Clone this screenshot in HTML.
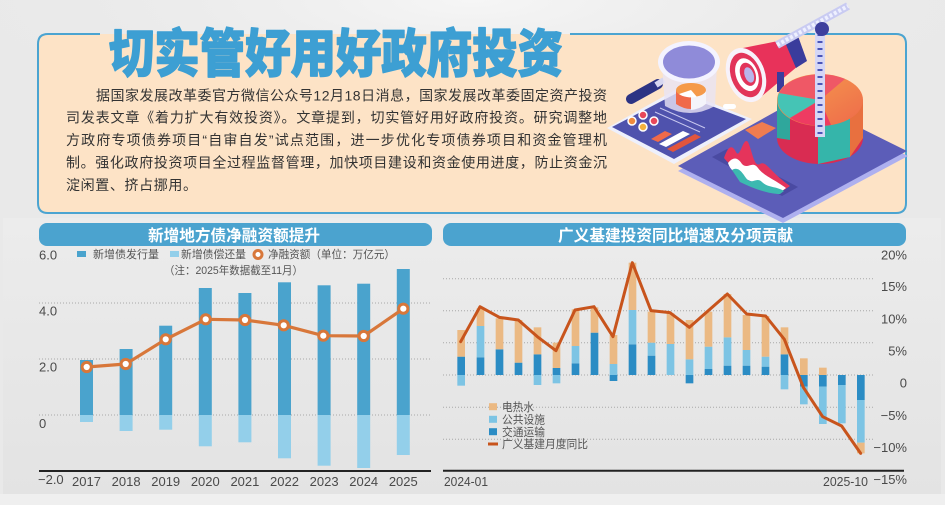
<!DOCTYPE html>
<html><head><meta charset="utf-8">
<style>
html,body{margin:0;padding:0;background:#e8e8e8;}
svg{display:block;}
text{font-family:"Liberation Sans","Noto Sans CJK SC",sans-serif;}
</style></head>
<body>
<svg width="945" height="505" viewBox="0 0 945 505" xmlns="http://www.w3.org/2000/svg">
<defs>
<radialGradient id="topglow" cx="0.5" cy="0" r="0.6">
<stop offset="0" stop-color="#f6f6f6"/><stop offset="1" stop-color="#e9e9e9" stop-opacity="0"/>
</radialGradient>
<linearGradient id="panel" x1="0" y1="0" x2="0" y2="1">
<stop offset="0" stop-color="#ececec"/><stop offset="1" stop-color="#e3e3e3"/>
</linearGradient>
<linearGradient id="pieO" x1="0" y1="0" x2="1" y2="1">
<stop offset="0" stop-color="#f6a04e"/><stop offset="1" stop-color="#ee6a4a"/>
</linearGradient>
</defs>

<!-- background -->
<rect x="0" y="0" width="945" height="505" fill="#e9e9e9"/>
<rect x="0" y="0" width="945" height="230" fill="url(#topglow)"/>
<rect x="3" y="218" width="938" height="276" fill="url(#panel)"/>
<rect x="0" y="494" width="945" height="11" fill="#efefef"/>

<!-- top card -->
<rect x="38" y="34" width="868" height="179" rx="10" fill="#fde3c6"/>
<path d="M100,34 L48,34 Q38,34 38,44 L38,203 Q38,213 48,213 L896,213 Q906,213 906,203 L906,44 Q906,34 896,34 L570,34" fill="none" stroke="#4ba4d1" stroke-width="2"/>

<!-- main title -->
<text transform="translate(109,72) scale(1,1.12)" font-size="46" font-weight="900" fill="#3d9fd3" stroke="#3d9fd3" stroke-width="1.3" stroke-linejoin="round" textLength="454" lengthAdjust="spacingAndGlyphs" style="font-family:'Noto Sans CJK SC',sans-serif;">切实管好用好政府投资</text>

<!-- body text -->
<g font-size="14" fill="#333333">
<text x="96" y="100.7" textLength="511" lengthAdjust="spacing">据国家发展改革委官方微信公众号12月18日消息，国家发展改革委固定资产投资</text>
<text x="66" y="122.7" textLength="541" lengthAdjust="spacing">司发表文章《着力扩大有效投资》。文章提到，切实管好用好政府投资。研究调整地</text>
<text x="66" y="145" textLength="541" lengthAdjust="spacing">方政府专项债券项目“自审自发”试点范围，进一步优化专项债券项目和资金管理机</text>
<text x="66" y="167.3" textLength="541" lengthAdjust="spacing">制。强化政府投资项目全过程监督管理，加快项目建设和资金使用进度，防止资金沉</text>
<text x="66" y="190" textLength="131" lengthAdjust="spacing">淀闲置、挤占挪用。</text>
</g>

<!-- illustration -->
<g>
<polygon points="678,171 800,103 908,156 783,223" fill="#aeb0ef"/>
<polygon points="678,166 800,98 907,151 783,218" fill="#5c5db8"/>
<polygon points="607,128 677,89 752,119 674,164" fill="#eef0fc"/>
<polygon points="612,127 677,93 746,119 674,159" fill="#4f52ad"/>
<line x1="660" y1="108" x2="705" y2="128" stroke="#c9c9f0" stroke-width="1"/>
<line x1="655" y1="112" x2="700" y2="132" stroke="#c9c9f0" stroke-width="1"/>
<circle cx="632" cy="121" r="4" fill="#f08a3c" stroke="#fff" stroke-width="1.5"/>
<circle cx="643" cy="115" r="4" fill="#e8485a" stroke="#fff" stroke-width="1.5"/>
<circle cx="643" cy="127" r="4" fill="#f5b13c" stroke="#fff" stroke-width="1.5"/>
<circle cx="654" cy="121" r="4" fill="#e8485a" stroke="#fff" stroke-width="1.5"/>
<polygon points="651,139 665,131 672,134 658,142" fill="#f06a4a"/>
<polygon points="659,144 683,131 690,134 666,147" fill="#ffffff"/>
<polygon points="667,149 695,134 701,137 673,152" fill="#e2553c"/>
<rect x="723" y="104" width="13" height="5" rx="2.5" fill="#fff"/>
<line x1="631" y1="99" x2="658" y2="84" stroke="#2c3384" stroke-width="10" stroke-linecap="round"/>
<line x1="656" y1="85" x2="664" y2="80" stroke="#d6d6f0" stroke-width="6"/>
<path d="M662,64 L665,106 Q690,120 715,106 L717,64 Z" fill="#e9e4f4" opacity="0.8"/>
<path d="M676,90 L676,104 Q691,114 706,104 L706,90 Z" fill="#f06a4a"/>
<path d="M691,92 L691,110 Q700,109 706,104 L706,90 Z" fill="#f4f4fa"/>
<ellipse cx="691" cy="90" rx="15" ry="7" fill="#f59a4a"/>
<path d="M691,90 L679,94 A15,7 0 0 0 697,97 Z" fill="#ffffff"/>
<ellipse cx="689" cy="62" rx="31" ry="21" fill="#f4f3ff"/>
<ellipse cx="689" cy="62" rx="26" ry="16.5" fill="#8f8bd9"/>
<polygon points="738,49 788,39 798,66 756,101" fill="#e8325a"/>
<polygon points="784,40 798,36 807,61 796,68" fill="#3a3c9c"/>
<rect x="777" y="72" width="7" height="20" fill="#3a3c9c"/>
<g transform="rotate(-20 746 75)">
<ellipse cx="746" cy="75" rx="19" ry="28" fill="#f7f2fb"/>
<ellipse cx="746" cy="75" rx="15" ry="23" fill="#e2345a"/>
<ellipse cx="747" cy="75" rx="11" ry="17" fill="#ffffff"/>
<ellipse cx="748" cy="75" rx="7.5" ry="12" fill="#e2345a"/>
<ellipse cx="749" cy="76" rx="4.5" ry="8" fill="#b9b5ea"/>
</g>
<polygon points="745,130 762,122 776,128 758,139" fill="#f07c50"/>
<polygon points="712,157 727,149 798,187 782,196" fill="#4a4aa2"/>
<path d="M724,158 C728,146 732,144 736,152 C740,160 743,136 748,142 C752,150 754,168 760,164 C766,160 770,172 790,186 L784,190 C770,186 760,178 750,174 C740,170 730,166 724,158 Z" fill="#e5345b"/>
<path d="M728,163 C734,156 738,158 742,164 C748,170 752,160 758,168 C764,176 772,178 786,188 L782,191 C768,188 756,184 744,178 C736,174 730,170 728,163 Z" fill="#ffffff"/>
<path d="M732,170 C738,166 742,172 746,178 C752,186 756,176 762,182 C768,188 776,186 784,191 L780,194 C768,194 752,188 740,182 Z" fill="#3cb9b0"/>
<path d="M777,100 L777,138 A43,26 0 0 0 863,138 L863,100 Z" fill="#d92c52"/>
<polygon points="818,126 850,117 850,157 818,164" fill="#35b5aa"/>
<polygon points="850,117 863,100 863,138 850,157" fill="#e8703f"/>
<polygon points="777,100 790,112 790,140 777,138" fill="#2fa79c"/>
<ellipse cx="820" cy="100" rx="43" ry="26" fill="url(#pieO)"/>
<path d="M820,100 L779,93 A43,26 0 0 0 790,118 Z" fill="#45c4b5"/>
<path d="M820,100 L790,118 A43,26 0 0 0 831,125 Z" fill="#ee3b62"/>
<path d="M820,100 L779,93 A43,26 0 0 1 845,79 Z" fill="#ef5866"/>
<line x1="777" y1="45" x2="848" y2="6" stroke="#c9cbf2" stroke-width="8"/>
<line x1="777" y1="45" x2="848" y2="6" stroke="#eef0ff" stroke-width="4" stroke-dasharray="3 2"/>
<rect x="815" y="27" width="10" height="110" fill="#d5d6f6"/>
<line x1="820" y1="34" x2="820" y2="134" stroke="#4a55b8" stroke-width="5" stroke-dasharray="2 5"/>
<circle cx="822" cy="29" r="7" fill="#3e3f9e"/>
</g>

<!-- ============ LEFT CHART ============ -->
<rect x="39" y="223" width="393" height="23" rx="8" fill="#4ba3cf"/>
<text x="234" y="241" text-anchor="middle" font-size="16" font-weight="bold" fill="#ffffff" textLength="172" lengthAdjust="spacingAndGlyphs">新增地方债净融资额提升</text>

<rect x="77" y="251" width="9" height="6" fill="#4aa3cd"/>
<text x="93" y="258" font-size="11" fill="#555" textLength="66" lengthAdjust="spacingAndGlyphs">新增债发行量</text>
<rect x="170" y="251" width="9" height="6" fill="#93cfea"/>
<text x="181" y="258" font-size="11" fill="#555" textLength="65" lengthAdjust="spacingAndGlyphs">新增债偿还量</text>
<circle cx="258" cy="254.5" r="4" fill="#fff" stroke="#d8773a" stroke-width="3"/>
<text x="268" y="258" font-size="11" fill="#555" textLength="127" lengthAdjust="spacingAndGlyphs">净融资额（单位：万亿元）</text>
<text x="164" y="274" font-size="11" fill="#555" textLength="139" lengthAdjust="spacingAndGlyphs">（注：2025年数据截至11月）</text>

<g stroke="#a8a8a8" stroke-width="1" stroke-dasharray="1 2">
<line x1="39" y1="303" x2="432" y2="303"/>
<line x1="39" y1="359" x2="432" y2="359"/>
<line x1="39" y1="415" x2="432" y2="415"/>
</g>

<g fill="#4aa3cd">
<rect x="80" y="360" width="13" height="55"/>
<rect x="119.6" y="349" width="13" height="66"/>
<rect x="159.2" y="325.7" width="13" height="89.3"/>
<rect x="198.8" y="288" width="13" height="127"/>
<rect x="238.4" y="293" width="13" height="122"/>
<rect x="278" y="282.3" width="13" height="132.7"/>
<rect x="317.6" y="285.3" width="13" height="129.7"/>
<rect x="357.2" y="283.7" width="13" height="131.3"/>
<rect x="396.8" y="269" width="13" height="146"/>
</g>
<g fill="#93cfea">
<rect x="80" y="415" width="13" height="7"/>
<rect x="119.6" y="415" width="13" height="16"/>
<rect x="159.2" y="415" width="13" height="14.7"/>
<rect x="198.8" y="415" width="13" height="31.3"/>
<rect x="238.4" y="415" width="13" height="27.3"/>
<rect x="278" y="415" width="13" height="43.3"/>
<rect x="317.6" y="415" width="13" height="50.7"/>
<rect x="357.2" y="415" width="13" height="53"/>
<rect x="396.8" y="415" width="13" height="40"/>
</g>

<polyline points="86.7,367 125.7,364 165.7,339.3 205.7,319.3 245,320 283.7,325.3 323.3,335.7 363.7,336 403.3,308.7" fill="none" stroke="#d8773a" stroke-width="3.2" stroke-linejoin="round"/>
<g fill="#ffffff" stroke="#d8773a" stroke-width="3">
<circle cx="86.7" cy="367" r="4.6"/>
<circle cx="125.7" cy="364" r="4.6"/>
<circle cx="165.7" cy="339.3" r="4.6"/>
<circle cx="205.7" cy="319.3" r="4.6"/>
<circle cx="245" cy="320" r="4.6"/>
<circle cx="283.7" cy="325.3" r="4.6"/>
<circle cx="323.3" cy="335.7" r="4.6"/>
<circle cx="363.7" cy="336" r="4.6"/>
<circle cx="403.3" cy="308.7" r="4.6"/>
</g>

<line x1="39" y1="471" x2="431" y2="471" stroke="#222" stroke-width="2"/>
<g font-size="13" fill="#4a4a4a">
<text x="39" y="259.5">6.0</text>
<text x="39" y="315.5">4.0</text>
<text x="39" y="371.5">2.0</text>
<text x="39" y="428">0</text>
<text x="38" y="484">−2.0</text>
</g>
<g font-size="13" fill="#4a4a4a" text-anchor="middle">
<text x="86.5" y="486">2017</text>
<text x="126.1" y="486">2018</text>
<text x="165.7" y="486">2019</text>
<text x="205.3" y="486">2020</text>
<text x="244.9" y="486">2021</text>
<text x="284.5" y="486">2022</text>
<text x="324.1" y="486">2023</text>
<text x="363.7" y="486">2024</text>
<text x="403.3" y="486">2025</text>
</g>

<!-- ============ RIGHT CHART ============ -->
<rect x="443" y="223" width="463" height="23" rx="8" fill="#4ba3cf"/>
<text x="675.5" y="241" text-anchor="middle" font-size="16" font-weight="bold" fill="#ffffff" textLength="235" lengthAdjust="spacingAndGlyphs">广义基建投资同比增速及分项贡献</text>

<g stroke="#a8a8a8" stroke-width="1" stroke-dasharray="1 2">
<line x1="443" y1="278.7" x2="875" y2="278.7"/>
<line x1="443" y1="310.7" x2="875" y2="310.7"/>
<line x1="443" y1="342.7" x2="875" y2="342.7"/>
<line x1="443" y1="375" x2="875" y2="375"/>
<line x1="443" y1="407.3" x2="875" y2="407.3"/>
<line x1="443" y1="439.3" x2="875" y2="439.3"/>
</g>

<g transform="translate(440 220) scale(0.333333)">
<g fill="#2b8cc4">
<rect x="52" y="410" width="23" height="55"/>
<rect x="110" y="412" width="23" height="53"/>
<rect x="167" y="388" width="23" height="77"/>
<rect x="224" y="428" width="23" height="37"/>
<rect x="281" y="403" width="23" height="62"/>
<rect x="338" y="444" width="23" height="21"/>
<rect x="395" y="430" width="23" height="35"/>
<rect x="452" y="338" width="23" height="127"/>
<rect x="509" y="465" width="23" height="18"/>
<rect x="566" y="373" width="23" height="92"/>
<rect x="623" y="407" width="23" height="58"/>
<rect x="737" y="465" width="23" height="25"/>
<rect x="794" y="447" width="23" height="18"/>
<rect x="851" y="437" width="23" height="28"/>
<rect x="908" y="437" width="23" height="28"/>
<rect x="965" y="440" width="23" height="25"/>
<rect x="1022" y="403" width="23" height="62"/>
<rect x="1080" y="465" width="23" height="35"/>
<rect x="1137" y="465" width="23" height="35"/>
<rect x="1194" y="465" width="23" height="30"/>
<rect x="1251" y="465" width="23" height="75"/>
</g>
<g fill="#7dc4e4">
<rect x="52" y="465" width="23" height="32"/>
<rect x="110" y="318" width="23" height="94"/>
<rect x="281" y="465" width="23" height="30"/>
<rect x="338" y="465" width="23" height="25"/>
<rect x="395" y="378" width="23" height="52"/>
<rect x="509" y="432" width="23" height="33"/>
<rect x="566" y="270" width="23" height="103"/>
<rect x="623" y="368" width="23" height="39"/>
<rect x="680" y="372" width="23" height="93"/>
<rect x="737" y="418" width="23" height="47"/>
<rect x="794" y="380" width="23" height="67"/>
<rect x="851" y="352" width="23" height="85"/>
<rect x="908" y="390" width="23" height="47"/>
<rect x="965" y="410" width="23" height="30"/>
<rect x="1022" y="465" width="23" height="43"/>
<rect x="1080" y="500" width="23" height="53"/>
<rect x="1137" y="500" width="23" height="112"/>
<rect x="1194" y="495" width="23" height="115"/>
<rect x="1251" y="540" width="23" height="128"/>
</g>
<g fill="#ebb983">
<rect x="52" y="330" width="23" height="80"/>
<rect x="110" y="265" width="23" height="53"/>
<rect x="167" y="295" width="23" height="93"/>
<rect x="224" y="300" width="23" height="128"/>
<rect x="281" y="322" width="23" height="81"/>
<rect x="338" y="368" width="23" height="76"/>
<rect x="395" y="268" width="23" height="110"/>
<rect x="452" y="262" width="23" height="76"/>
<rect x="509" y="345" width="23" height="87"/>
<rect x="566" y="128" width="23" height="142"/>
<rect x="623" y="275" width="23" height="93"/>
<rect x="680" y="280" width="23" height="92"/>
<rect x="737" y="300" width="23" height="118"/>
<rect x="794" y="275" width="23" height="105"/>
<rect x="851" y="222" width="23" height="130"/>
<rect x="908" y="285" width="23" height="105"/>
<rect x="965" y="288" width="23" height="122"/>
<rect x="1022" y="322" width="23" height="81"/>
<rect x="1080" y="415" width="23" height="50"/>
<rect x="1137" y="443" width="23" height="22"/>
<rect x="1251" y="668" width="23" height="32"/>
</g>
<polyline points="62,365 120,260 178,292 235,300 292,350 348,392 405,270 462,260 519,350 577,128 633,272 690,278 748,322 805,272 862,222 920,282 977,288 1033,358 1090,502 1148,590 1205,618 1262,700" fill="none" stroke="#c8541c" stroke-width="9" stroke-linejoin="round" stroke-linecap="round"/>
</g>

<rect x="489" y="403.2" width="8" height="7" fill="#ebb983"/>
<rect x="489" y="415.8" width="8" height="7" fill="#7dc4e4"/>
<rect x="489" y="428.2" width="8" height="7" fill="#2b8cc4"/>
<line x1="488" y1="444" x2="498" y2="444" stroke="#c8541c" stroke-width="3"/>
<g font-size="11.5" fill="#555">
<text x="502" y="410.8" textLength="32" lengthAdjust="spacingAndGlyphs">电热水</text>
<text x="502" y="423.4" textLength="43" lengthAdjust="spacingAndGlyphs">公共设施</text>
<text x="502" y="435.8" textLength="43" lengthAdjust="spacingAndGlyphs">交通运输</text>
<text x="502" y="448.1" textLength="86" lengthAdjust="spacingAndGlyphs">广义基建月度同比</text>
</g>

<line x1="443" y1="470.7" x2="904" y2="470.7" stroke="#222" stroke-width="2"/>
<g font-size="13" fill="#4a4a4a" text-anchor="end">
<text x="907" y="259.5">20%</text>
<text x="907" y="291">15%</text>
<text x="907" y="323.5">10%</text>
<text x="907" y="355.5">5%</text>
<text x="907" y="387.5">0</text>
<text x="907" y="420">−5%</text>
<text x="907" y="452">−10%</text>
<text x="907" y="484">−15%</text>
</g>
<g font-size="13" fill="#4a4a4a">
<text x="444" y="486" textLength="44" lengthAdjust="spacingAndGlyphs">2024-01</text>
<text x="823" y="486" textLength="45" lengthAdjust="spacingAndGlyphs">2025-10</text>
</g>
</svg>
</body></html>
